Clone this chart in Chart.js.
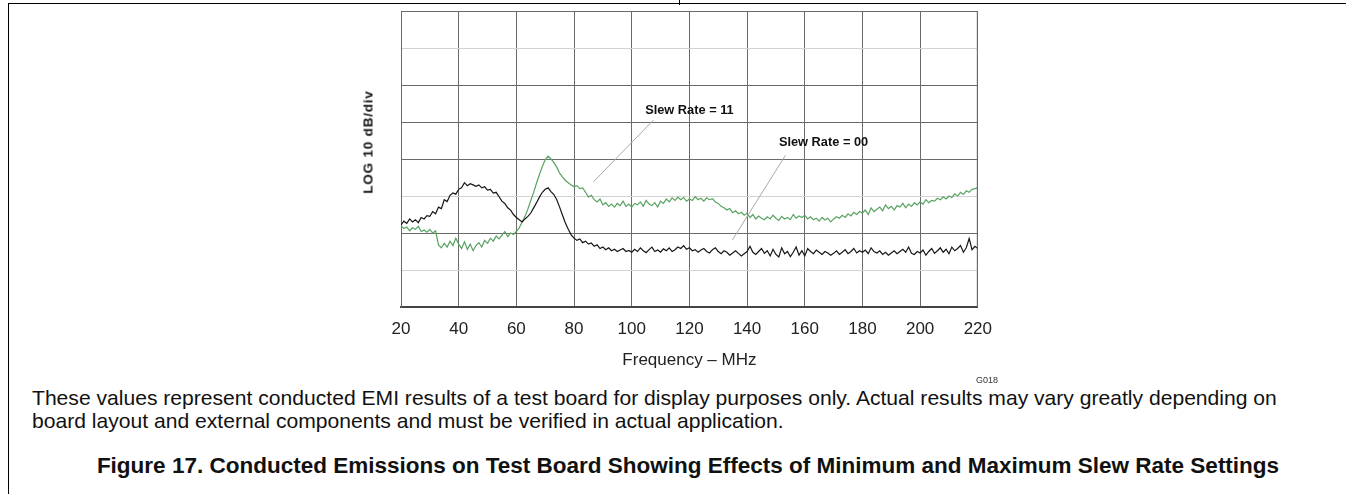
<!DOCTYPE html>
<html>
<head>
<meta charset="utf-8">
<script src="https://cdn.jsdelivr.net/npm/chart.js@4.4.1/dist/chart.umd.min.js"></script>
<style>
  body { margin: 0; width: 1346px; height: 494px; background: #fff; position: relative; overflow: hidden;
         font-family: "Liberation Sans", Arial, sans-serif; color: #111; }
  .hline { position: absolute; left: 8px; top: 3px; width: 1338px; height: 1px; background: #000; }
  .vline { position: absolute; left: 8px; top: 3px; width: 1px; height: 491px; background: #000; }
  .tick { position: absolute; left: 679px; top: 0; width: 1px; height: 5px; background: #000; }
  #wrap { position: absolute; left: 340px; top: 0; width: 664px; height: 380px; }
  #ytitle { position: absolute; left: 368px; top: 142px; transform: translate(-50%, -50%) rotate(-90deg);
            font-size: 13.5px; font-weight: bold; letter-spacing: 0.8px; white-space: nowrap; }
  #code { position: absolute; left: 976px; top: 375px; font-size: 9px; color: #333; }
  #note { position: absolute; left: 32px; top: 386px; font-size: 21.1px; line-height: 23px; width: 1310px; }
  #caption { position: absolute; left: 8px; width: 1360px; top: 453px; text-align: center;
             font-size: 22.5px; font-weight: bold; }
</style>
</head>
<body>
<div class="hline"></div>
<div class="vline"></div>
<div class="tick"></div>
<div id="wrap"><canvas id="emi"></canvas></div>
<div id="ytitle">LOG 10 dB/div</div>
<div id="code">G018</div>
<div id="note">These values represent conducted EMI results of a test board for display purposes only. Actual results may vary greatly depending on<br>board layout and external components and must be verified in actual application.</div>
<div id="caption">Figure 17. Conducted Emissions on Test Board Showing Effects of Minimum and Maximum Slew Rate Settings</div>

<script>
// frequency axis: 20..220 MHz, one reading per MHz
const freqStart = 20;
const xTicks = [20, 40, 60, 80, 100, 120, 140, 160, 180, 200, 220];

// levels in divisions (10 dB/div), 0 = bottom of the graticule
const slew00 = [
  2.22, 2.32, 2.26, 2.38, 2.30, 2.36, 2.28, 2.42, 2.38, 2.47, 2.45, 2.58, 2.52, 2.70, 2.66, 2.90, 2.85, 3.02, 3.08, 3.05,
  3.18, 3.22, 3.36, 3.28, 3.33, 3.30, 3.26, 3.30, 3.22, 3.25, 3.16, 3.18, 3.08, 3.10, 2.98, 2.86, 2.80, 2.68, 2.62, 2.50,
  2.42, 2.36, 2.30, 2.38, 2.45, 2.54, 2.68, 2.82, 2.97, 3.10, 3.18, 3.22, 3.12, 3.04, 2.90, 2.70, 2.48, 2.27, 2.10, 1.95,
  1.86, 1.80, 1.84, 1.74, 1.78, 1.70, 1.73, 1.64, 1.68, 1.58, 1.62, 1.55, 1.60, 1.52, 1.56, 1.50, 1.54, 1.58, 1.50, 1.53,
  1.48, 1.56, 1.50, 1.60, 1.52, 1.47, 1.55, 1.62, 1.50, 1.54, 1.48, 1.57, 1.52, 1.60, 1.50, 1.55, 1.62, 1.58, 1.66, 1.56,
  1.60, 1.52, 1.55, 1.48, 1.54, 1.58, 1.50, 1.46, 1.55, 1.60, 1.50, 1.44, 1.52, 1.48, 1.40, 1.46, 1.52, 1.45, 1.38, 1.44,
  1.50, 1.64, 1.48, 1.42, 1.50, 1.58, 1.45, 1.52, 1.38, 1.56, 1.42, 1.35, 1.60, 1.44, 1.50, 1.36, 1.48, 1.62, 1.40, 1.52,
  1.38, 1.58, 1.50, 1.44, 1.54, 1.48, 1.42, 1.50, 1.46, 1.40, 1.45, 1.52, 1.42, 1.48, 1.55, 1.44, 1.50, 1.58, 1.46, 1.52,
  1.48, 1.54, 1.44, 1.60, 1.50, 1.46, 1.52, 1.42, 1.48, 1.40, 1.46, 1.52, 1.44, 1.50, 1.56, 1.48, 1.62, 1.45, 1.42, 1.50,
  1.46, 1.54, 1.40, 1.50, 1.58, 1.45, 1.52, 1.60, 1.48, 1.56, 1.44, 1.62, 1.52, 1.58, 1.66, 1.48, 1.60, 1.85, 1.55, 1.64, 1.58
];

const slew11 = [
  2.20, 2.12, 2.16, 2.06, 2.14, 2.10, 2.18, 2.04, 2.08, 2.02, 2.10, 2.00, 2.06, 1.68, 1.60, 1.72, 1.62, 1.78, 1.66, 1.86,
  1.70, 1.58, 1.76, 1.56, 1.70, 1.52, 1.66, 1.74, 1.62, 1.80, 1.72, 1.86, 1.78, 1.92, 1.84, 1.94, 2.04, 1.90, 2.00, 1.96,
  2.04, 2.14, 2.30, 2.45, 2.65, 2.88, 3.10, 3.35, 3.58, 3.80, 3.98, 4.08, 4.00, 3.90, 3.78, 3.62, 3.52, 3.42, 3.36, 3.30,
  3.25, 3.28, 3.20, 3.22, 3.10, 2.97, 3.02, 2.90, 2.84, 2.92, 2.76, 2.82, 2.72, 2.78, 2.70, 2.80, 2.74, 2.86, 2.72, 2.78,
  2.70, 2.80, 2.76, 2.84, 2.72, 2.88, 2.78, 2.74, 2.82, 2.70, 2.86, 2.80, 2.92, 2.84, 2.95, 2.88, 2.97, 2.90, 2.96, 2.86,
  2.92, 2.88, 2.98, 2.90, 2.94, 2.86, 2.95, 2.90, 2.93, 2.84, 2.80, 2.72, 2.68, 2.62, 2.66, 2.55, 2.60, 2.52, 2.56, 2.48,
  2.54, 2.42, 2.50, 2.38, 2.46, 2.40, 2.36, 2.44, 2.38, 2.48, 2.40, 2.34, 2.45, 2.38, 2.42, 2.36, 2.50, 2.40, 2.46, 2.42,
  2.48, 2.38, 2.44, 2.36, 2.40, 2.32, 2.42, 2.35, 2.40, 2.30, 2.38, 2.44, 2.40, 2.48, 2.42, 2.52, 2.46, 2.56, 2.50, 2.58,
  2.54, 2.62, 2.50, 2.68, 2.58, 2.64, 2.70, 2.60, 2.76, 2.66, 2.72, 2.62, 2.74, 2.70, 2.80, 2.68, 2.78, 2.72, 2.82, 2.76,
  2.84, 2.78, 2.90, 2.82, 2.88, 2.86, 2.94, 2.90, 2.98, 2.92, 3.00, 2.96, 3.06, 3.00, 3.10, 3.04, 3.14, 3.10, 3.18, 3.20, 3.22
];

// callouts: label position and leader line end points (MHz, div)
const callouts = [
  { text: 'Slew Rate = 11', at: [120, 5.3], from: [107.5, 5.05], to: [86.7, 3.38] },
  { text: 'Slew Rate = 00', at: [166.5, 4.46], from: [153.3, 4.1], to: [134.9, 1.81] }
];

const toPoints = arr => arr.map((v, i) => ({ x: freqStart + i, y: v }));

const calloutPlugin = {
  id: 'callouts',
  afterDatasetsDraw(chart) {
    const { ctx, scales: { x, y } } = chart;
    ctx.save();
    callouts.forEach(c => {
      ctx.strokeStyle = '#a8a8a8';
      ctx.lineWidth = 1;
      ctx.beginPath();
      ctx.moveTo(x.getPixelForValue(c.from[0]), y.getPixelForValue(c.from[1]));
      ctx.lineTo(x.getPixelForValue(c.to[0]), y.getPixelForValue(c.to[1]));
      ctx.stroke();
      ctx.fillStyle = '#111';
      ctx.font = 'bold 12.8px "Liberation Sans", Arial, sans-serif';
      ctx.textAlign = 'center';
      ctx.textBaseline = 'middle';
      ctx.fillText(c.text, x.getPixelForValue(c.at[0]), y.getPixelForValue(c.at[1]));
    });
    ctx.restore();
  }
};

new Chart(document.getElementById('emi'), {
  type: 'scatter',
  data: {
    datasets: [
      { label: 'Slew Rate = 00', data: toPoints(slew00), showLine: true, borderColor: '#161616',
        borderWidth: 1.2, pointRadius: 0, tension: 0 },
      { label: 'Slew Rate = 11', data: toPoints(slew11), showLine: true, borderColor: '#58a362',
        borderWidth: 1.2, pointRadius: 0, tension: 0 }
    ]
  },
  options: {
    responsive: true,
    maintainAspectRatio: false,
    animation: false,
    layout: { padding: { top: 11, right: 23, left: 0, bottom: 0 } },
    plugins: { legend: { display: false }, tooltip: { enabled: false } },
    scales: {
      x: {
        type: 'linear', min: 20, max: 220,
        afterBuildTicks: s => { s.ticks = xTicks.map(v => ({ value: v })); },
        afterFit: s => { s.height = 73; },
        grid: { color: '#6a6a6a', lineWidth: 1, drawTicks: false },
        border: { color: '#444', width: 2 },
        ticks: { padding: 12, color: '#222', font: { size: 17, family: '"Liberation Sans", Arial' } },
        title: { display: true, text: 'Frequency – MHz', color: '#222',
                 font: { size: 17, family: '"Liberation Sans", Arial' }, padding: { top: 0, bottom: 9 } }
      },
      y: {
        min: 0, max: 8,
        afterFit: s => { s.width = 61; },
        grid: { color: c => [1, 3, 7].includes(c.tick.value) ? '#d2d2d2' : '#6a6a6a', drawTicks: false },
        border: { color: '#6a6a6a' },
        ticks: { stepSize: 1, display: false }
      }
    }
  },
  plugins: [calloutPlugin, {
    id: 'frame',
    afterDraw(chart) {
      const { ctx, chartArea: a } = chart;
      ctx.save();
      ctx.strokeStyle = '#6a6a6a';
      ctx.lineWidth = 1;
      ctx.beginPath();
      ctx.moveTo(a.left, a.top + 0.5); ctx.lineTo(a.right, a.top + 0.5);
      ctx.moveTo(a.right - 0.5, a.top); ctx.lineTo(a.right - 0.5, a.bottom);
      ctx.stroke();
      ctx.restore();
    }
  }]
});
</script>
</body>
</html>
